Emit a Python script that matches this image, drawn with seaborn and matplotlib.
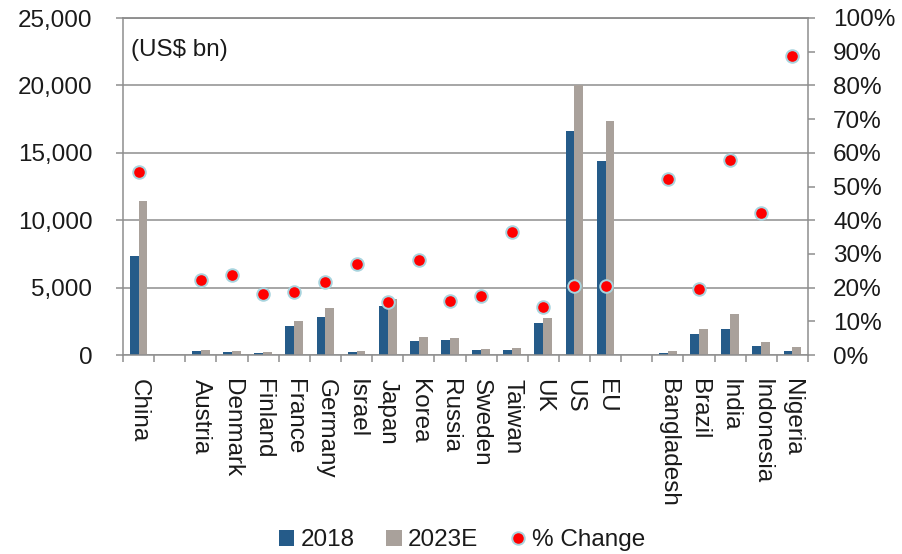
import numpy as np
import pandas as pd
import matplotlib
matplotlib.use("Agg")
import matplotlib.pyplot as plt
from matplotlib.lines import Line2D
from matplotlib.patches import Patch
from matplotlib.ticker import FuncFormatter, MultipleLocator, FixedLocator
import seaborn as sns

# Economies shown, with their values in US$ bn
countries = ["China", "Austria", "Denmark", "Finland", "France", "Germany", "Israel",
             "Japan", "Korea", "Russia", "Sweden", "Taiwan", "UK", "US", "EU",
             "Bangladesh", "Brazil", "India", "Indonesia", "Nigeria"]
gdp_2018 = [7380, 300, 220, 170, 2130, 2820, 250, 3640, 1010, 1110, 350, 370,
            2380, 16630, 14380, 170, 1580, 1910, 670, 320]
gdp_2023 = [11410, 370, 300, 220, 2520, 3470, 320, 4160, 1310, 1290, 420, 500,
            2720, 20050, 17350, 270, 1910, 3020, 940, 570]
# Percentage change 2018 -> 2023E
pct_change = [54.2, 22.3, 23.8, 18.0, 18.6, 21.7, 27.1, 15.7, 28.1, 15.9, 17.6,
              36.4, 14.1, 20.5, 20.5, 52.2, 19.7, 57.8, 42.1, 88.8]
years = ["2018", "2023E"]

# Category slots; blank entries leave a gap between the groups
slot_order = (["China", " "] + countries[1:15] + ["  "] + countries[15:])

BLUE = "#255B89"
GREY = "#A9A19B"
RED = "#FF0000"
DOT_EDGE = "#A8D4DE"
LINE = "#8E8E8E"
TEXT = "#1A1A1A"
FS = 17.5

sns.set_theme(style="white")
plt.rcParams["font.family"] = ["Liberation Sans", "DejaVu Sans"]
plt.rcParams["text.color"] = TEXT
plt.rcParams["xtick.color"] = TEXT
plt.rcParams["ytick.color"] = TEXT

fig = plt.figure(figsize=(9.02, 5.54), dpi=100)
ax = fig.add_axes([123 / 902, 1 - 355 / 554, (808 - 123) / 902, (355 - 18) / 554])

df = pd.DataFrame({
    "country": countries * 2,
    "year": [years[0]] * len(countries) + [years[1]] * len(countries),
    "value": gdp_2018 + gdp_2023,
})

sns.barplot(data=df, x="country", y="value", hue="year", order=slot_order,
            hue_order=years, palette={years[0]: BLUE, years[1]: GREY},
            width=0.57, saturation=1, errorbar=None, linewidth=0,
            legend=False, ax=ax, zorder=2)

ax.set_xlim(-0.5, len(slot_order) - 0.5)
ax.set_ylim(0, 25000)
ax.yaxis.set_major_locator(MultipleLocator(5000))
ax.yaxis.set_major_formatter(FuncFormatter(lambda v, p: f"{v:,.0f}"))
ax.yaxis.grid(True, color=LINE, linewidth=1.1)
ax.set_axisbelow(True)
ax.set_xlabel("")
ax.set_ylabel("")

ax.set_xticks(range(len(slot_order)))
ax.set_xticklabels(slot_order, rotation=270, fontsize=FS, va="top", ha="center")
ax.xaxis.set_minor_locator(FixedLocator(np.arange(-0.5, len(slot_order), 1.0)))
ax.tick_params(axis="x", which="major", length=0, pad=17)
ax.tick_params(axis="x", which="minor", length=5, width=1.1, color=LINE,
               direction="out", bottom=True)
ax.tick_params(axis="y", which="major", length=5, width=1.1, color=LINE,
               direction="out", left=True, pad=17, labelsize=FS)

for side, sp in ax.spines.items():
    sp.set_color(LINE)
    sp.set_linewidth(1.1)
ax.spines["right"].set_visible(False)

ax.text(0.012, 0.905, "(US$ bn)", transform=ax.transAxes, fontsize=FS,
        va="center", ha="left", color=TEXT)

# Percentage change on the secondary axis
ax2 = ax.twinx()
xpos = [slot_order.index(c) for c in countries]
sns.scatterplot(x=xpos, y=pct_change, ax=ax2, color=RED, s=82,
                edgecolor=DOT_EDGE, linewidth=1.4, zorder=5, legend=False)
ax2.set_ylim(0, 100)
ax2.yaxis.set_major_locator(MultipleLocator(10))
ax2.yaxis.set_major_formatter(FuncFormatter(lambda v, p: f"{v:.0f}%"))
ax2.tick_params(axis="y", which="major", length=5, width=1.1, color=LINE,
                direction="out", right=True, pad=13, labelsize=FS)
ax2.set_ylabel("")
for side, sp in ax2.spines.items():
    sp.set_color(LINE)
    sp.set_linewidth(1.1)
ax2.spines["left"].set_visible(False)
ax2.spines["bottom"].set_visible(False)
ax2.set_xlim(-0.5, len(slot_order) - 0.5)

handles = [
    Patch(facecolor=BLUE, edgecolor="none", label="2018"),
    Patch(facecolor=GREY, edgecolor="none", label="2023E"),
    Line2D([], [], marker="o", linestyle="none", markersize=9,
           markerfacecolor=RED, markeredgecolor=DOT_EDGE, markeredgewidth=1.4,
           label="% Change"),
]
fig.legend(handles=handles, loc="center", bbox_to_anchor=(0.512, 0.025),
           ncol=3, frameon=False, fontsize=FS, handlelength=0.65,
           handleheight=0.65, handletextpad=0.25, columnspacing=1.3,
           borderaxespad=0)

fig.savefig("out.png", dpi=100)
